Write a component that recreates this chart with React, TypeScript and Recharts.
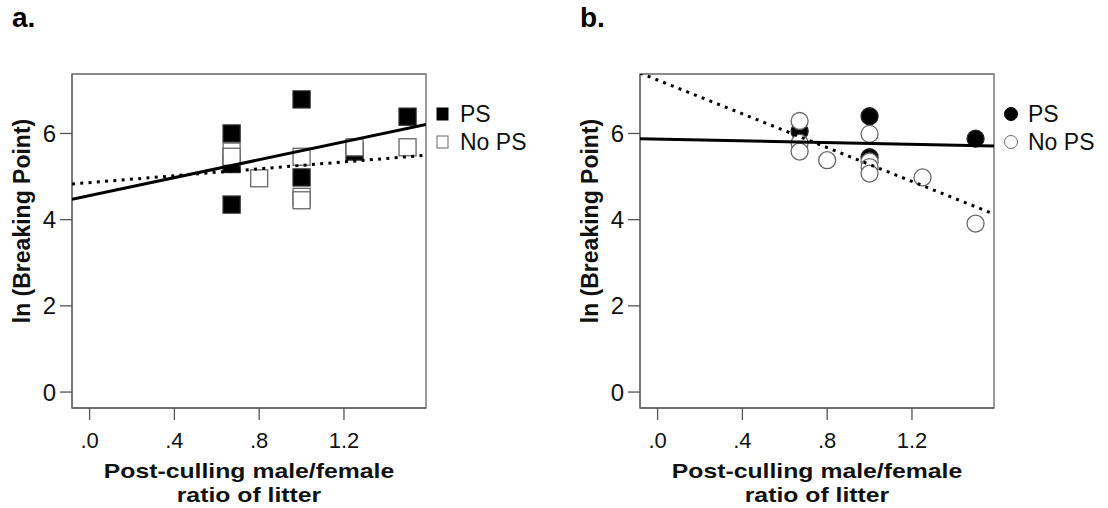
import React from 'react'
import { ScatterChart, Scatter, XAxis, YAxis, ReferenceArea } from 'recharts'

const FONT = '"Liberation Sans", Arial, Helvetica, sans-serif'

// axis ranges shared by both panels
const X_MIN = -0.083
const X_MAX = 1.587
const Y_MIN = -0.37
const Y_MAX = 7.38
const xTicks = [0, 0.4, 0.8, 1.2]
const yTicks = [0, 2, 4, 6]
const seriesNames = ['PS', 'No PS']
const xTitle = ['Post-culling male/female', 'ratio of litter']

// panel a – squares
const ratioPsA = [0.67, 0.67, 0.67, 1.0, 1.0, 1.25, 1.5]
const bpPsA = [6.0, 5.29, 4.35, 6.79, 4.98, 5.58, 6.39]
const ratioNoPsA = [0.67, 0.67, 0.8, 1.0, 1.0, 1.0, 1.25, 1.5]
const bpNoPsA = [5.58, 5.46, 4.96, 5.46, 4.53, 4.45, 5.68, 5.68]
const interceptA = [4.56, 4.86]
const slopeA = [1.04, 0.4]

// panel b – circles
const ratioPsB = [0.67, 1.0, 1.0, 1.5]
const bpPsB = [6.05, 6.4, 5.45, 5.88]
const ratioNoPsB = [0.67, 0.67, 0.67, 0.8, 1.0, 1.0, 1.0, 1.0, 1.25, 1.5]
const bpNoPsB = [6.29, 5.78, 5.58, 5.38, 5.99, 5.35, 5.22, 5.07, 4.98, 3.91]
const interceptB = [5.872, 7.24]
const slopeB = [-0.102, -1.96]

const zip = (xs: number[], ys: number[]) => xs.map((x, i) => ({ x, y: ys[i] }))

const fitLine = (b0: number, b1: number) => [
  { x: X_MIN, y: b0 + b1 * X_MIN },
  { x: X_MAX, y: b0 + b1 * X_MAX },
]

const fmtX = (v: number) => (v < 1 ? '.' + v.toFixed(1).split('.')[1] : v.toFixed(1))

const XTick = (p: any) => (
  <text x={p.x} y={p.y} dy={16} textAnchor="middle" fontSize={22} fontFamily={FONT} fill="#111">
    {fmtX(p.payload.value)}
  </text>
)

const YTick = (p: any) => (
  <text x={p.x} y={p.y} dy={8.5} textAnchor="end" fontSize={24} fontFamily={FONT} fill="#111">
    {p.payload.value}
  </text>
)

const square = (filled: boolean) => (props: any) => {
  const { cx, cy } = props
  return (
    <rect
      x={cx - 8.5}
      y={cy - 8.5}
      width={17}
      height={17}
      fill={filled ? '#000' : '#fff'}
      stroke={filled ? '#222' : '#666'}
      strokeWidth={1.3}
    />
  )
}

const circle = (filled: boolean) => (props: any) => {
  const { cx, cy } = props
  return <circle cx={cx} cy={cy} r={8.5} fill={filled ? '#000' : '#fff'} stroke={filled ? '#222' : '#666'} strokeWidth={1.3} />
}

const noShape = () => <g />

interface PanelProps {
  left: number
  tag: string
  psX: number[]
  psY: number[]
  noX: number[]
  noY: number[]
  intercepts: number[]
  slopes: number[]
  kind: 'square' | 'circle'
}

function Panel({ left, tag, psX, psY, noX, noY, intercepts, slopes, kind }: PanelProps) {
  const mark = kind === 'square' ? square : circle
  return (
    <div style={{ position: 'absolute', left, top: 0, width: 560, height: 508 }}>
      <ScatterChart width={560} height={508} margin={{ top: 74, right: 134, bottom: 0, left: 0 }}>
        <XAxis
          type="number"
          dataKey="x"
          domain={[X_MIN, X_MAX]}
          ticks={xTicks}
          allowDataOverflow
          height={100}
          tickSize={12}
          tickMargin={12}
          tick={XTick}
          tickLine={{ stroke: '#555', strokeWidth: 1.3 }}
          axisLine={{ stroke: '#666', strokeWidth: 1.3 }}
        />
        <YAxis
          type="number"
          dataKey="y"
          domain={[Y_MIN, Y_MAX]}
          ticks={yTicks}
          allowDataOverflow
          width={72}
          tickSize={12}
          tickMargin={4}
          tick={YTick}
          tickLine={{ stroke: '#555', strokeWidth: 1.3 }}
          axisLine={{ stroke: '#666', strokeWidth: 1.3 }}
        />
        <ReferenceArea x1={X_MIN} x2={X_MAX} y1={Y_MIN} y2={Y_MAX} fill="none" stroke="#666" strokeWidth={1.3} />
        <Scatter data={zip(psX, psY)} shape={mark(true)} isAnimationActive={false} />
        <Scatter data={zip(noX, noY)} shape={mark(false)} isAnimationActive={false} />
        <Scatter
          data={fitLine(intercepts[0], slopes[0])}
          line={{ stroke: '#000', strokeWidth: 3 }}
          shape={noShape}
          isAnimationActive={false}
        />
        <Scatter
          data={fitLine(intercepts[1], slopes[1])}
          line={{ stroke: '#000', strokeWidth: 3, strokeDasharray: '3 5.3' }}
          shape={noShape}
          isAnimationActive={false}
        />
      </ScatterChart>

      {/* panel tag */}
      <div style={{ position: 'absolute', left: 12, top: 4, fontSize: 28, fontWeight: 700, lineHeight: 1, fontFamily: FONT }}>
        {tag}
      </div>

      {/* y title */}
      <div
        style={{
          position: 'absolute',
          left: 22,
          top: 221,
          transform: 'translate(-50%, -50%) rotate(-90deg)',
          whiteSpace: 'nowrap',
          fontSize: 23,
          fontWeight: 700,
          fontFamily: FONT,
          color: '#111',
        }}
      >
        ln (Breaking Point)
      </div>

      {/* x title, two lines */}
      {xTitle.map((line, i) => (
        <div
          key={line}
          style={{
            position: 'absolute',
            left: 72,
            width: 354,
            top: 459 + i * 24,
            height: 23.5,
            textAlign: 'center',
            fontSize: 21,
            fontWeight: 700,
            lineHeight: '23.5px',
            fontFamily: FONT,
            color: '#111',
            whiteSpace: 'nowrap',
            transform: 'scaleX(1.18)',
          }}
        >
          {line}
        </div>
      ))}

      {/* legend */}
      <div style={{ position: 'absolute', left: 434, top: 100, fontFamily: FONT, fontSize: 23, color: '#111' }}>
        {seriesNames.map((name, i) => (
          <div key={name} style={{ display: 'flex', alignItems: 'center', height: 28 }}>
            <svg width={24} height={16} style={{ marginRight: 2 }}>
              {kind === 'square' ? (
                <rect x={3} y={2} width={11} height={12} fill={i === 0 ? '#000' : '#fff'} stroke={i === 0 ? '#000' : '#666'} strokeWidth={1} />
              ) : (
                <circle cx={9} cy={8} r={6.5} fill={i === 0 ? '#000' : '#fff'} stroke={i === 0 ? '#000' : '#666'} strokeWidth={1} />
              )}
            </svg>
            <span>{name}</span>
          </div>
        ))}
      </div>
    </div>
  )
}

export default function App() {
  return (
    <div style={{ position: 'absolute', left: 0, top: 0, width: 1108, height: 508, background: '#fff' }}>
      <Panel
        left={0}
        tag="a."
        psX={ratioPsA}
        psY={bpPsA}
        noX={ratioNoPsA}
        noY={bpNoPsA}
        intercepts={interceptA}
        slopes={slopeA}
        kind="square"
      />
      <Panel
        left={568}
        tag="b."
        psX={ratioPsB}
        psY={bpPsB}
        noX={ratioNoPsB}
        noY={bpNoPsB}
        intercepts={interceptB}
        slopes={slopeB}
        kind="circle"
      />
    </div>
  )
}
